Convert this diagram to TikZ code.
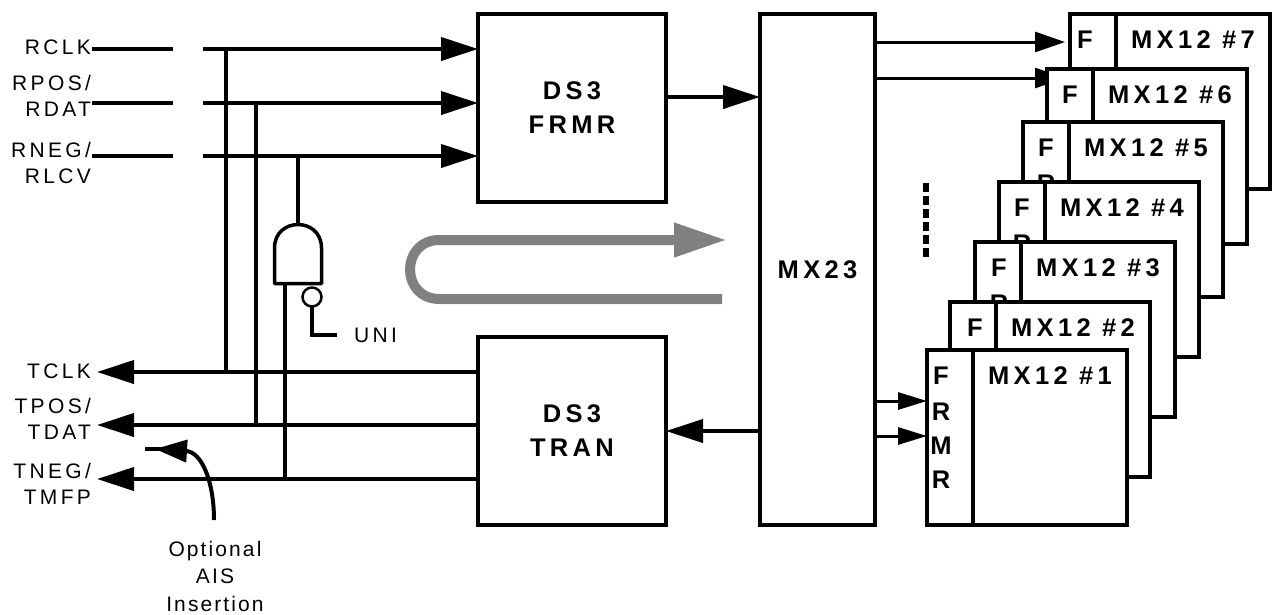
\documentclass[tikz,border=0pt]{standalone}
\usepackage{fontspec}
\setmainfont{Liberation Sans}
\newfontfamily\lbl{Liberation Sans}[LetterSpace=16]
\newfontfamily\lbllow{Liberation Sans}[LetterSpace=10]
\newfontfamily\blbl{Liberation Sans}[LetterSpace=17]
\usetikzlibrary{arrows.meta}
\definecolor{arrgray}{RGB}{128,128,128}
\tikzset{
  lab/.style={inner sep=0pt, outer sep=0pt, font=\lbl\fontsize{21}{26.5}\selectfont},
  btxt/.style={inner sep=0pt, outer sep=0pt, font=\blbl\bfseries\fontsize{25.5}{34}\selectfont},
  box/.style={draw, line width=4pt, fill=white, inner sep=0pt, outer sep=0pt, align=center,
    font=\blbl\bfseries\fontsize{25.5}{34}\selectfont},
  mxb/.style={box, minimum width=200pt, minimum height=175pt, anchor=north west},
  wire/.style={line width=4pt},
  arr/.style={line width=4pt, -{Triangle[length=37pt,width=23pt]}},
  tarr/.style={line width=3pt, -{Triangle[length=30pt,width=20pt]}},
  barr/.style={line width=3pt, -{Triangle[length=29pt,width=17pt]}},
  garr/.style={line width=10pt, draw=arrgray, -{Triangle[length=53pt,width=32pt]}},
}
% #1 number, #2 left, #3 top, #4 x offset of the F column text
\newcommand\mxunit[4]{%
  \node[mxb] (m#1) at (#2,#3) {};
  \draw[wire] ([xshift=46pt]m#1.north west) -- ([xshift=46pt]m#1.south west);
  \node[btxt] (m#1f) at ([xshift=#4pt,yshift=-26pt]m#1.north west) {F};
  \node[btxt] (m#1t) at ([xshift=123pt,yshift=-26pt]m#1.north west) {MX12 \##1};
}
\newcommand\peekr[2]{%
  \node[btxt] at ([xshift=#2pt,yshift=-62pt]m#1.north west) {R};
}
\begin{document}
\begin{tikzpicture}[x=1pt,y=-1pt]
\useasboundingbox (0,0) rectangle (1282,614);

% main boxes
\node[box, minimum width=188pt, minimum height=188pt] (frmr) at (572,108) {DS3\\FRMR};
\node[box, minimum width=188pt, minimum height=188pt] (tran) at (572,431) {DS3\\TRAN};
\node[box, minimum width=115pt, minimum height=511pt] (mx23) at (817.5,269.5) {MX23};

% input labels
\node[lab, anchor=east] (lrclk) at (91,47.5) {RCLK};
\node[lab, anchor=north east, align=right] (lrpos) at (91,75) {RPOS/\\RDAT};
\node[lab, anchor=north east, align=right] (lrneg) at (91,142) {RNEG/\\RLCV};
% output labels
\node[lab, anchor=east] (ltclk) at (91,371.5) {TCLK};
\node[lab, anchor=north east, align=right] (ltpos) at (91,398) {TPOS/\\TDAT};
\node[lab, anchor=north east, align=right] (ltneg) at (91,463) {TNEG/\\TMFP};

% input wires
\coordinate (a1) at (92,49);  \coordinate (b1) at (173,49);  \coordinate (c1) at (203,49);
\coordinate (a2) at (92,103); \coordinate (b2) at (173,103); \coordinate (c2) at (203,103);
\coordinate (a3) at (92,156); \coordinate (b3) at (173,156); \coordinate (c3) at (203,156);
\draw[wire] (a1) -- (b1); \draw[arr] (c1) -- (frmr.west |- c1);
\draw[wire] (a2) -- (b2); \draw[arr] (c2) -- (frmr.west |- c2);
\draw[wire] (a3) -- (b3); \draw[arr] (c3) -- (frmr.west |- c3);

% output wires
\coordinate (t1) at (97,372);
\coordinate (t2) at (97,425);
\coordinate (t3) at (97,479);
\draw[arr] (tran.west |- t1) -- (t1);
\draw[arr] (tran.west |- t2) -- (t2);
\draw[arr] (tran.west |- t3) -- (t3);

% loopback verticals
\coordinate (j1) at (226,49);  \coordinate (k1) at (226,372);
\coordinate (j2) at (256,103); \coordinate (k2) at (256,427);
\coordinate (j3) at (298,156); \coordinate (gtop) at (298,224.5);
\coordinate (gbot) at (285,283.5); \coordinate (k3) at (285,479);
\draw[wire] (j1) -- (k1);
\draw[wire] (j2) -- (k2);
\draw[wire] (j3) -- (gtop);
\draw[wire] (gbot) -- (k3);

% AND gate
\draw[line width=3.5pt, fill=white, line join=round]
  (274.5,283.5) -- (274.5,248) .. controls (274.5,216.7) and (321.5,216.7) .. (321.5,248)
  -- (321.5,283.5) -- cycle;
\coordinate (bub) at (312,297);
\coordinate (u1) at (312,306); \coordinate (u2) at (312,335); \coordinate (u3) at (337,335);
\draw[wire] (u1) -- (u2) -- (u3);
\draw[line width=2.5pt, fill=white] (bub) circle[radius=9.5pt];
\node[lab, anchor=west] (uni) at (354,335) {UNI};

% AIS insertion
\coordinate (ais1) at (214,520); \coordinate (ais2) at (155,449);
\coordinate (s1) at (145,449); \coordinate (s2) at (162,449);
\draw[wire] (s1) -- (s2);
\draw[wire, -{Triangle[length=32pt,width=22pt]}] (ais1) .. controls (214,482) and (202,452) .. (ais2);
\node[lab, anchor=north, align=center, font=\lbllow\fontsize{21}{27.5}\selectfont] (ais) at (215,541) {Optional\\AIS\\Insertion};

% FRMR -> MX23 -> TRAN
\draw[arr] (frmr.east |- 0,97) -- (mx23.west |- 0,97);
\draw[arr] (mx23.west |- tran.east) -- (tran.east);

% gray loop arrow
\draw[garr] (722,299) -- (439.5,299) .. controls (400.2,299) and (400.2,240) .. (439.5,240) -- (727,240);

% dotted ellipsis
\draw[line width=6pt, dash pattern=on 9pt off 4pt] (926,183) -- (926,257);

% MX12 stack
\mxunit{7}{1070}{14}{15}
\draw[tarr, shorten >=5pt] (mx23.east |- 0,42) -- (m7.west |- 0,42);
\draw[tarr, shorten >=5pt] (mx23.east |- 0,78) -- (m7.west |- 0,78);
\mxunit{6}{1047}{69}{23}
\mxunit{5}{1023}{122}{23}
\peekr{5}{23}
\mxunit{4}{999}{182}{23}
\peekr{4}{23}
\mxunit{3}{975}{242}{24}
\peekr{3}{24}
\mxunit{2}{950}{302}{25}
\mxunit{1}{927}{350}{14}
\node[btxt] (m1r) at ([xshift=14pt,yshift=-62pt]m1.north west) {R};
\node[btxt] (m1m) at ([xshift=14pt,yshift=-96pt]m1.north west) {M};
\node[btxt] (m1r2) at ([xshift=14pt,yshift=-130pt]m1.north west) {R};
\draw[barr] (mx23.east |- 0,401) -- (m1.west |- 0,401);
\draw[barr] (mx23.east |- 0,436) -- (m1.west |- 0,436);
\end{tikzpicture}
\end{document}
